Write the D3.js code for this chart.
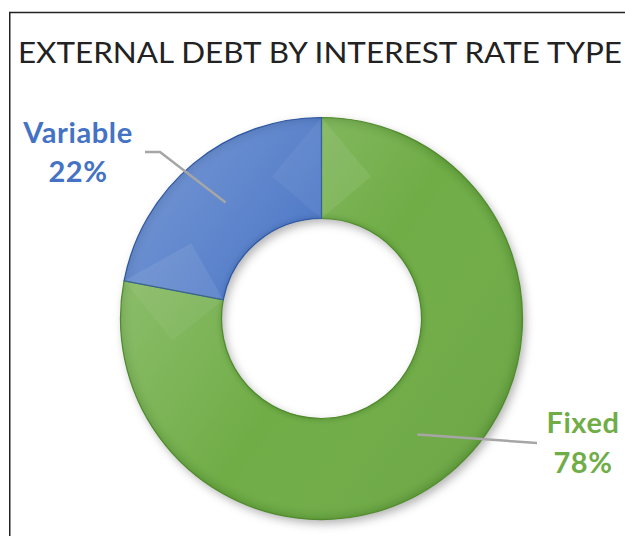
<!DOCTYPE html>
<html><head><meta charset="utf-8">
<script src="https://cdn.jsdelivr.net/npm/d3@7"></script>
<style>html,body{margin:0;padding:0;background:#fff;overflow:hidden}</style>
</head><body>
<script>
const categories = ["Fixed", "Variable"];
const values = [78, 22];
const percentLabels = ["78%", "22%"];
const title = "EXTERNAL DEBT BY INTEREST RATE TYPE";

const W = 625, H = 536;
const cx = 321.5, cy = 318.5, rOuter = 201, rInner = 100;
const baseColors = {Fixed: "#70AD47", Variable: "#4472C4"};
const darkColors = {Fixed: "#4f8a2c", Variable: "#2d56a0"};
const textColors = {Fixed: "#70AD47", Variable: "#4472C4"};
// label layout (text center x, first baseline, elbow point)
const labelLayout = {
  Variable: {x: 78, y1: 143, y2: 182, elbow: [160, 152], end: [145, 152]},
  Fixed: {x: 583, y1: 433, y2: 473, elbow: null, end: [537, 443]}
};

const svg = d3.select("body").append("svg").attr("width", W).attr("height", H);
const defs = svg.append("defs");

const f = defs.append("filter").attr("id", "shadow").attr("x", "-20%").attr("y", "-20%").attr("width", "140%").attr("height", "140%");
f.append("feDropShadow").attr("dx", 3).attr("dy", 4).attr("stdDeviation", 5).attr("flood-color", "#000").attr("flood-opacity", 0.3);

const ri = rInner / rOuter;
categories.forEach(c => {
  const g = defs.append("radialGradient").attr("id", "rg-" + c)
    .attr("gradientUnits", "userSpaceOnUse").attr("cx", 0).attr("cy", 0).attr("r", rOuter);
  [[ri, darkColors[c], 0.55], [ri + 0.04, baseColors[c], 0], [0.93, baseColors[c], 0], [1, darkColors[c], 0.6]]
    .forEach(([o, col, op]) => g.append("stop").attr("offset", o).attr("stop-color", col).attr("stop-opacity", op));
  const lg = defs.append("linearGradient").attr("id", "lg-" + c)
    .attr("gradientUnits", "userSpaceOnUse").attr("x1", -rOuter).attr("y1", -rOuter * 0.4).attr("x2", rOuter).attr("y2", rOuter);
  lg.append("stop").attr("offset", 0).attr("stop-color", "#fff").attr("stop-opacity", 0.22);
  lg.append("stop").attr("offset", 0.45).attr("stop-color", "#fff").attr("stop-opacity", 0.0);
  lg.append("stop").attr("offset", 1).attr("stop-color", "#000").attr("stop-opacity", 0.08);
});

// frame
svg.append("path").attr("d", `M9.75,536 V12.5 H625`).attr("fill", "none").attr("stroke", "#222").attr("stroke-width", 1.5);

// title
const t = svg.append("text").attr("x", 18).attr("y", 62.5)
  .attr("font-family", "Lato, 'Open Sans', sans-serif").attr("font-size", 29).attr("fill", "#222").text(title);
const tl = t.node().getComputedTextLength();
if (Math.abs(tl - 604) > 2) t.attr("textLength", 604).attr("lengthAdjust", "spacingAndGlyphs");

const data = categories.map((c, i) => ({cat: c, value: values[i], label: percentLabels[i]}));
const pie = d3.pie().sort(null).value(d => d.value);
const arcs = pie(data);
const arc = d3.arc().innerRadius(rInner).outerRadius(rOuter);

const g = svg.append("g").attr("transform", `translate(${cx},${cy})`);
g.append("g").attr("filter", "url(#shadow)").selectAll("path").data(arcs).join("path")
  .attr("d", arc).attr("fill", d => baseColors[d.data.cat]);
const sl = g.append("g");
sl.selectAll("path.base").data(arcs).join("path").attr("class", "base")
  .attr("d", arc).attr("fill", d => `url(#rg-${d.data.cat})`);
sl.selectAll("path.lite").data(arcs).join("path").attr("class", "lite")
  .attr("d", arc).attr("fill", d => `url(#lg-${d.data.cat})`);
// bevel facets: subtle diagonal highlights near slice edges
arcs.forEach(d => {
  const m = rInner + (rOuter - rInner) / 2;
  const bw = (rOuter - rInner) / 2;
  [d.startAngle, d.endAngle].forEach((a, k) => {
    const sgn = k === 0 ? 1 : -1;
    const da = bw / m;
    const p = (r, ang) => [Math.sin(ang) * r, -Math.cos(ang) * r];
    const pts = [p(rOuter, a), p(m, a + sgn * da), p(rInner, a)];
    g.append("path").attr("d", d3.line()(pts) + "Z")
      .attr("fill", "#fff").attr("fill-opacity", k === 0 ? 0.08 : 0.05);
  });
});
sl.selectAll("path.edge").data(arcs).join("path").attr("class", "edge")
  .attr("d", arc).attr("fill", "none").attr("stroke", d => darkColors[d.data.cat]).attr("stroke-width", 1.2);

// leader lines and labels
arcs.forEach(d => {
  const c = arc.centroid(d);
  const L = labelLayout[d.data.cat];
  const pts = [[c[0] + cx, c[1] + cy]];
  if (L.elbow) pts.push(L.elbow);
  pts.push(L.end);
  svg.append("path").attr("d", d3.line()(pts)).attr("fill", "none").attr("stroke", "#a6a6a6").attr("stroke-width", 2.5);
  const tx = svg.append("text").attr("text-anchor", "middle").attr("font-family", "Lato, 'Open Sans', sans-serif")
    .attr("font-weight", "bold").attr("font-size", 29).attr("letter-spacing", 0.6).attr("fill", textColors[d.data.cat]);
  tx.append("tspan").attr("x", L.x).attr("y", L.y1).text(d.data.cat);
  tx.append("tspan").attr("x", L.x).attr("y", L.y2).text(d.data.label);
});
</script>
</body></html>
